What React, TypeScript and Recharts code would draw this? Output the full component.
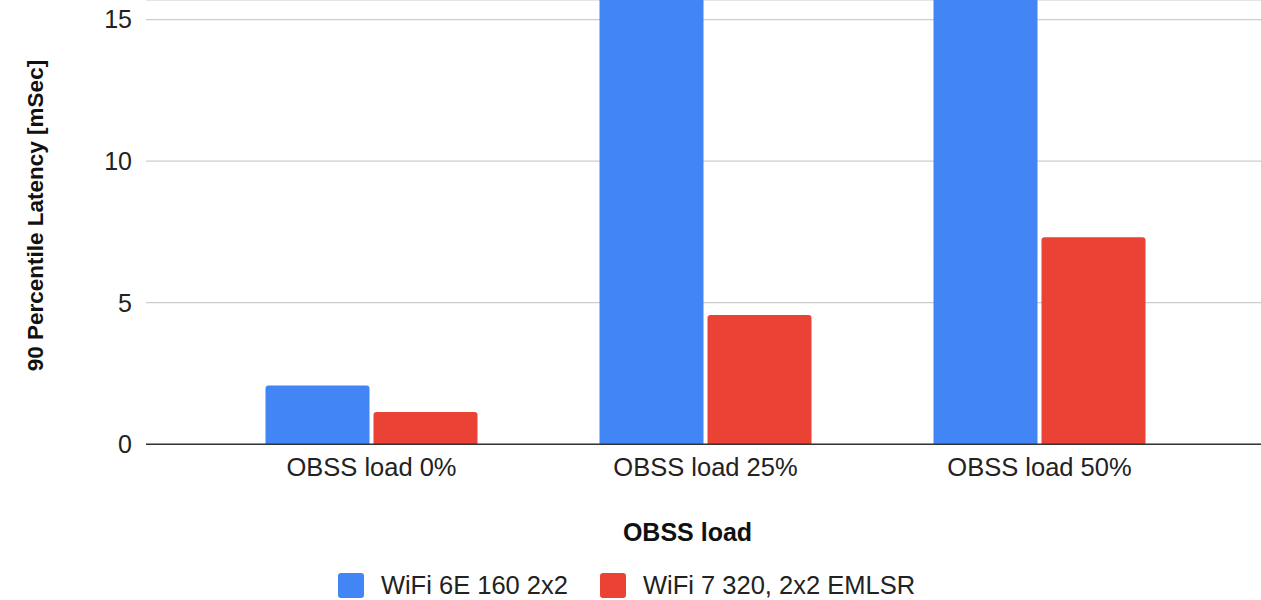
import React from 'react';
import { BarChart, Bar, XAxis, YAxis, CartesianGrid, Legend } from 'recharts';

const categories = ['OBSS load 0%', 'OBSS load 25%', 'OBSS load 50%'];
const wifi6eValues = [2.08, 19.5, 23.0];
const wifi7Values = [1.14, 4.57, 7.31];
const yTicks = [0, 5, 10, 15];
const seriesNames = ['WiFi 6E 160 2x2', 'WiFi 7 320, 2x2 EMLSR'];
const seriesColors = ['#4285F4', '#EA4335'];

const data = categories.map((c, i) => ({
  name: c,
  wifi6e: wifi6eValues[i],
  wifi7: wifi7Values[i],
}));

const FONT = '"Liberation Sans", Arial, sans-serif';

const LegendContent = () => (
  <div style={{ display: 'flex', justifyContent: 'center', alignItems: 'center', fontFamily: FONT, fontSize: 25.5, color: '#222', paddingRight: 8 }}>
    {seriesNames.map((n, i) => (
      <div key={n} style={{ display: 'flex', alignItems: 'center', marginLeft: i === 0 ? 0 : 32 }}>
        <div style={{ width: 26, height: 25, borderRadius: 3, background: seriesColors[i], marginRight: 17 }} />
        <span style={{ lineHeight: '25px' }}>{n}</span>
      </div>
    ))}
  </div>
);

export default function App() {
  return (
    <div style={{ position: 'absolute', top: 0, left: 0, width: 1261, height: 600, background: '#fff' }}>
      <BarChart
        width={1261}
        height={600}
        data={data}
        margin={{ top: 0, right: 0, bottom: 0, left: 0 }}
        barSize={104}
        barGap={4}
      >
        <CartesianGrid vertical={false} stroke="#cccccc" strokeWidth={1.2} />
        <XAxis
          dataKey="name"
          height={155.7}
          padding={{ left: 58.5, right: 54.5 }}
          tickSize={0}
          tickMargin={14}
          axisLine={{ stroke: '#333333', strokeWidth: 1.5 }}
          tick={{ fill: '#222', fontSize: 25.5, fontFamily: FONT }}
          label={{ value: 'OBSS load', position: 'inside', dx: -16, dy: 10, fill: '#111', fontSize: 25, fontWeight: 'bold', fontFamily: FONT }}
        />
        <YAxis
          width={146}
          domain={[0, 15.69]}
          ticks={yTicks}
          allowDataOverflow
          axisLine={false}
          tickLine={false}
          tickSize={0}
          tickMargin={14}
          tick={{ fill: '#222', fontSize: 25, fontFamily: FONT }}
          label={{ value: '90 Percentile Latency [mSec]', position: 'inside', angle: -90, dx: -38, dy: -6.6, fill: '#111', fontSize: 22.5, fontWeight: 'bold', fontFamily: FONT }}
        />
        <Legend
          layout="horizontal"
          verticalAlign="middle"
          align="center"
          wrapperStyle={{ top: 573, left: 0, width: 1261 }}
          content={<LegendContent />}
        />
        <Bar dataKey="wifi6e" name={seriesNames[0]} fill={seriesColors[0]} radius={[3, 3, 0, 0]} isAnimationActive={false} />
        <Bar dataKey="wifi7" name={seriesNames[1]} fill={seriesColors[1]} radius={[3, 3, 0, 0]} isAnimationActive={false} />
      </BarChart>
    </div>
  );
}
